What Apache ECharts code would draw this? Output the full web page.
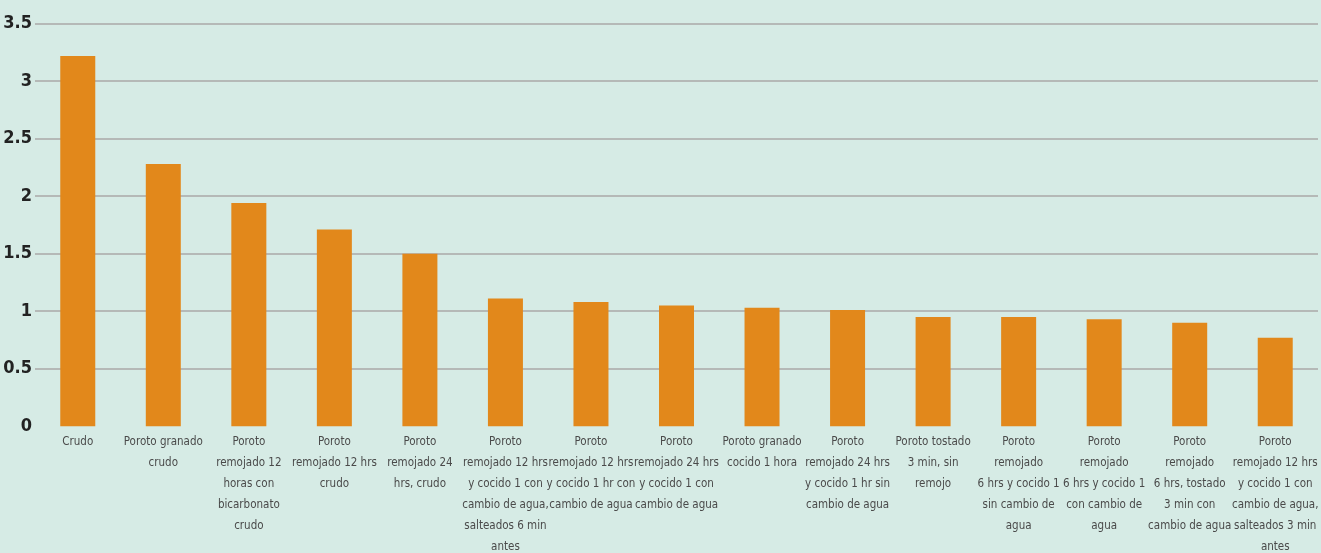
<!DOCTYPE html>
<html>
<head>
<meta charset="utf-8">
<style>
  html, body { margin: 0; padding: 0; background: #d6ebe5; }
  #chart { width: 1321px; height: 553px; }
</style>
<script src="https://cdn.jsdelivr.net/npm/echarts@6/dist/echarts.min.js"></script>
</head>
<body>
<div id="chart"></div>
<script>
// Preparations of beans, one bar each
const categories = [
  'Crudo',
  'Poroto granado\ncrudo',
  'Poroto\nremojado 12\nhoras con\nbicarbonato\ncrudo',
  'Poroto\nremojado 12 hrs\ncrudo',
  'Poroto\nremojado 24\nhrs, crudo',
  'Poroto\nremojado 12 hrs\ny cocido 1 con\ncambio de agua,\nsalteados 6 min\nantes',
  'Poroto\nremojado 12 hrs\ny cocido 1 hr con\ncambio de agua',
  'Poroto\nremojado 24 hrs\ny cocido 1 con\ncambio de agua',
  'Poroto granado\ncocido 1 hora',
  'Poroto\nremojado 24 hrs\ny cocido 1 hr sin\ncambio de agua',
  'Poroto tostado\n3 min, sin\nremojo',
  'Poroto\nremojado\n6 hrs y cocido 1\nsin cambio de\nagua',
  'Poroto\nremojado\n6 hrs y cocido 1\ncon cambio de\nagua',
  'Poroto\nremojado\n6 hrs, tostado\n3 min con\ncambio de agua',
  'Poroto\nremojado 12 hrs\ny cocido 1 con\ncambio de agua,\nsalteados 3 min\nantes'
];

const values = [3.22, 2.28, 1.94, 1.71, 1.5, 1.11, 1.08, 1.05, 1.03, 1.01, 0.95, 0.95, 0.93, 0.9, 0.77];

const yMin = 0;
const yMax = 3.5;
const yStep = 0.5;

const chart = echarts.init(document.getElementById('chart'));

// one colour per split line; the baseline at 0 stays hidden
const splitColors = [];
for (let v = yMin; v <= yMax + 1e-9; v += yStep) {
  splitColors.push(v === yMin ? 'rgba(0,0,0,0)' : '#b5b9b7');
}

const condensedFont = "'DejaVu Sans Condensed', 'DejaVu Sans', sans-serif";

chart.setOption({
  backgroundColor: '#d6ebe5',
  animation: false,
  grid: { left: 35, right: 3, top: 23.7, bottom: 126.8, outerBoundsMode: 'none' },
  xAxis: {
    type: 'category',
    data: categories,
    axisLine: { show: false },
    axisTick: { show: false },
    axisLabel: {
      interval: 0,
      margin: 5,
      color: '#4a4a4a',
      fontStyle: 'normal',
      fontWeight: 'normal condensed',
      fontFamily: condensedFont,
      fontSize: 11.5,
      lineHeight: 21,
      align: 'center'
    }
  },
  yAxis: {
    type: 'value',
    min: yMin,
    max: yMax,
    interval: yStep,
    axisLine: { show: false },
    axisTick: { show: false },
    axisLabel: {
      margin: 3,
      color: '#222222',
      fontStyle: 'normal',
      fontWeight: 'bold condensed',
      fontSize: 18,
      fontFamily: condensedFont
    },
    splitLine: { lineStyle: { color: splitColors, width: 2 } }
  },
  series: [{
    type: 'bar',
    data: values,
    barWidth: 35,
    itemStyle: { color: '#e2881b' }
  }]
});
</script>
</body>
</html>
